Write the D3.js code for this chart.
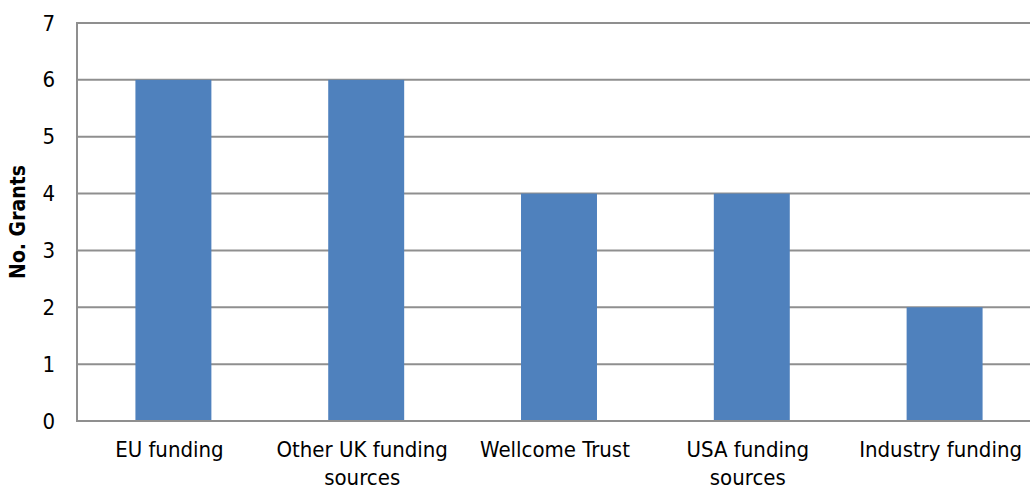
<!DOCTYPE html>
<html>
<head>
<meta charset="utf-8">
<script src="https://cdn.jsdelivr.net/npm/d3@7/dist/d3.min.js"></script>
<style>
  html, body { margin: 0; padding: 0; background: #fff; }
  svg { display: block; font-family: "DejaVu Sans Condensed", "DejaVu Sans", sans-serif; font-stretch: condensed; }
</style>
</head>
<body>
<svg id="chart" width="1030" height="489"></svg>
<script>
// Grant counts by funding source
const categories = [
  ["EU funding"],
  ["Other UK funding", "sources"],
  ["Wellcome Trust"],
  ["USA funding", "sources"],
  ["Industry funding"]
];
const values = [6, 6, 4, 4, 2];
const yTicks = [0, 1, 2, 3, 4, 5, 6, 7];
const yTitle = "No. Grants";

const svg = d3.select("#chart");
const plotLeft = 77, plotRight = 1041, plotTop = 23, plotBottom = 421;

const keys = categories.map(c => c.join(" "));
const x = d3.scaleBand().domain(keys).range([plotLeft, plotRight])
  .paddingInner(0.606).paddingOuter(0.303);
const y = d3.scaleLinear().domain([0, 7]).range([plotBottom, plotTop]);

const gridColor = "#8f8f8f";

// horizontal gridlines
svg.append("g").selectAll("line").data(yTicks.filter(t => t > 0)).join("line")
  .attr("x1", plotLeft).attr("x2", 1030)
  .attr("y1", d => y(d)).attr("y2", d => y(d))
  .attr("stroke", gridColor).attr("stroke-width", 2);

// bars
svg.append("g").selectAll("rect").data(values).join("rect")
  .attr("x", (d, i) => x(keys[i]))
  .attr("width", x.bandwidth())
  .attr("y", d => y(d))
  .attr("height", d => y(0) - y(d))
  .attr("fill", "#4f81bd");

// axis lines
svg.append("line").attr("x1", plotLeft).attr("x2", plotLeft).attr("y1", plotTop - 1).attr("y2", plotBottom)
  .attr("stroke", gridColor).attr("stroke-width", 2);
svg.append("line").attr("x1", plotLeft - 1).attr("x2", 1030).attr("y1", plotBottom).attr("y2", plotBottom)
  .attr("stroke", gridColor).attr("stroke-width", 2);

// y tick labels
const yAxis = d3.axisLeft(y).tickValues(yTicks).tickSize(0).tickPadding(22).tickFormat(d3.format("d"));
const gy = svg.append("g").attr("transform", `translate(${plotLeft},0)`).call(yAxis);
gy.select(".domain").remove();
gy.selectAll("text").attr("font-size", 22).attr("fill", "#000")
  .attr("font-family", "'DejaVu Sans Condensed', 'DejaVu Sans', sans-serif");

// category labels, centred under each bar
const labels = svg.append("g").selectAll("text").data(categories).join("text")
  .attr("text-anchor", "middle")
  .attr("font-size", 22)
  .attr("fill", "#000")
  .attr("transform", (d, i) => `translate(${x(keys[i]) + x.bandwidth() / 2 - 4},457)`);
labels.selectAll("tspan").data(d => d).join("tspan")
  .attr("x", 0).attr("dy", (d, i) => i === 0 ? 0 : 28)
  .text(d => d);

// y axis title
svg.append("text")
  .attr("transform", `translate(25,${(plotTop + plotBottom) / 2}) rotate(-90)`)
  .attr("text-anchor", "middle")
  .attr("font-size", 21).attr("font-weight", "bold").attr("fill", "#000")
  .text(yTitle);
</script>
</body>
</html>
